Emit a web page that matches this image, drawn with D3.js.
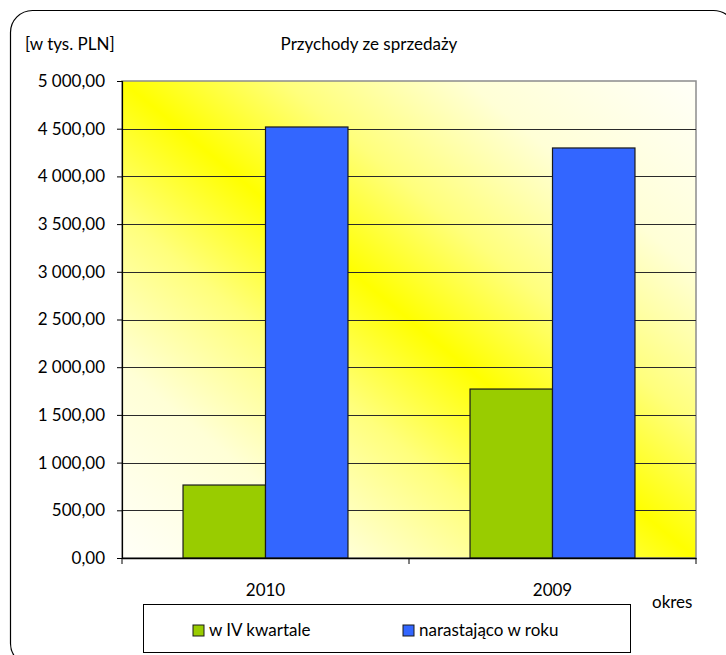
<!DOCTYPE html>
<meta charset="utf-8">
<html>
<head>
    <script src="https://d3js.org/d3.v7.min.js"></script>
    <style>
        body { margin: 0; background: #fff; }
        text { font-family: Lato, "Open Sans", sans-serif; fill: #000; }
    </style>
</head>
<body>
    <div id="chart"></div>
    <script>
        // data
        var categories = ["2010", "2009"];
        var seriesNames = ["w IV kwartale", "narastająco w roku"];
        var seriesColors = ["#99CC00", "#3366FF"];
        var kwartal = [765, 1771];
        var narastajaco = [4518, 4298];
        var yTicks = [0, 500, 1000, 1500, 2000, 2500, 3000, 3500, 4000, 4500, 5000];

        var W = 726, H = 655;
        var plot = { left: 122, top: 81, right: 696, bottom: 558 };
        var fs = "17px";

        var svg = d3.select("#chart").append("svg")
            .attr("width", W)
            .attr("height", H);

        // outer rounded frame
        svg.append("rect")
            .attr("x", 10.5).attr("y", 10.5)
            .attr("width", 725).attr("height", 655)
            .attr("rx", 22).attr("ry", 22)
            .attr("fill", "#fff")
            .attr("stroke", "#000")
            .attr("stroke-width", 1.2);

        // diagonal yellow gradient (ridge along the main diagonal)
        var defs = svg.append("defs");
        var grad = defs.append("linearGradient")
            .attr("id", "bg")
            .attr("x1", 0).attr("y1", 1)
            .attr("x2", 1).attr("y2", 0);
        [[0, "#FFFFF8"], [0.2, "#FFFFD6"], [0.36, "#FFFF7C"], [0.5, "#FFFF00"],
         [0.64, "#FFFF7C"], [0.8, "#FFFFD6"], [1, "#FFFFF8"]].forEach(function (s) {
            grad.append("stop").attr("offset", s[0]).attr("stop-color", s[1]);
        });

        var x0 = d3.scaleBand()
            .domain(categories)
            .range([plot.left, plot.right]);
        var x1 = d3.scaleBand()
            .domain(d3.range(seriesNames.length))
            .range([0, x0.bandwidth()])
            .paddingOuter(0.74)
            .paddingInner(0);
        var y = d3.scaleLinear()
            .domain([0, 5000])
            .range([plot.bottom, plot.top]);

        svg.append("rect")
            .attr("x", plot.left).attr("y", plot.top)
            .attr("width", plot.right - plot.left)
            .attr("height", plot.bottom - plot.top)
            .attr("fill", "url(#bg)")
            .attr("stroke", "#8c8c8c")
            .attr("stroke-width", 1.5);

        // gridlines
        svg.append("g").selectAll("line")
            .data(yTicks.filter(function (d) { return d > 0 && d < 5000; }))
            .join("line")
            .attr("x1", plot.left).attr("x2", plot.right)
            .attr("y1", function (d) { return Math.round(y(d)) + 0.5; })
            .attr("y2", function (d) { return Math.round(y(d)) + 0.5; })
            .attr("stroke", "#2a2a2a")
            .attr("stroke-width", 1);

        // bars
        var table = categories.map(function (c, i) {
            return { cat: c, values: [kwartal[i], narastajaco[i]] };
        });
        svg.append("g").selectAll("g")
            .data(table)
            .join("g")
            .attr("transform", function (d) { return "translate(" + x0(d.cat) + ",0)"; })
            .selectAll("rect")
            .data(function (d) { return d.values; })
            .join("rect")
            .attr("x", function (d, i) { return x1(i); })
            .attr("y", function (d) { return y(d); })
            .attr("width", x1.bandwidth())
            .attr("height", function (d) { return plot.bottom - y(d); })
            .attr("fill", function (d, i) { return seriesColors[i]; })
            .attr("stroke", "#1a1a1a")
            .attr("stroke-width", 1.2);

        // y axis
        var fmt = function (d) {
            var s = d3.format(",.2f")(d);
            return s.replace(/,/g, " ").replace(".", ",");
        };
        var yAxis = svg.append("g")
            .attr("transform", "translate(" + plot.left + ",0)")
            .call(d3.axisLeft(y).tickValues(yTicks).tickSize(5).tickPadding(12).tickFormat(fmt));
        yAxis.selectAll("text").style("font-size", fs);
        yAxis.select(".domain").attr("stroke", "#000").attr("stroke-width", 1.2);

        // x axis
        var xAxis = svg.append("g")
            .attr("transform", "translate(0," + plot.bottom + ")")
            .call(d3.axisBottom(x0).tickSize(0).tickPadding(26));
        xAxis.selectAll("text").style("font-size", fs);
        xAxis.select(".domain").attr("stroke", "#000").attr("stroke-width", 1.5);
        // category separators
        xAxis.append("g").selectAll("line")
            .data([plot.left, x0("2009"), plot.right])
            .join("line")
            .attr("x1", function (d) { return d; }).attr("x2", function (d) { return d; })
            .attr("y1", 0).attr("y2", 6)
            .attr("stroke", "#000");

        // titles
        svg.append("text")
            .attr("x", 25).attr("y", 50)
            .style("font-size", fs)
            .text("[w tys. PLN]");
        svg.append("text")
            .attr("x", 369).attr("y", 50)
            .attr("text-anchor", "middle")
            .style("font-size", fs)
            .text("Przychody ze sprzedaży");
        svg.append("text")
            .attr("x", 652).attr("y", 608)
            .style("font-size", fs)
            .text("okres");

        // legend
        var lg = svg.append("g");
        lg.append("rect")
            .attr("x", 143.5).attr("y", 604.5)
            .attr("width", 487).attr("height", 48)
            .attr("fill", "#fff")
            .attr("stroke", "#000")
            .attr("stroke-width", 1);
        var legX = [193, 403];
        var items = lg.selectAll("g.item")
            .data(seriesNames)
            .join("g")
            .attr("class", "item")
            .attr("transform", function (d, i) { return "translate(" + legX[i] + ",625)"; });
        items.append("rect")
            .attr("width", 11).attr("height", 11)
            .attr("fill", function (d, i) { return seriesColors[i]; })
            .attr("stroke", "#1a1a1a");
        items.append("text")
            .attr("x", 16).attr("y", 11)
            .style("font-size", fs)
            .text(function (d) { return d; });
    </script>
</body>
</html>
